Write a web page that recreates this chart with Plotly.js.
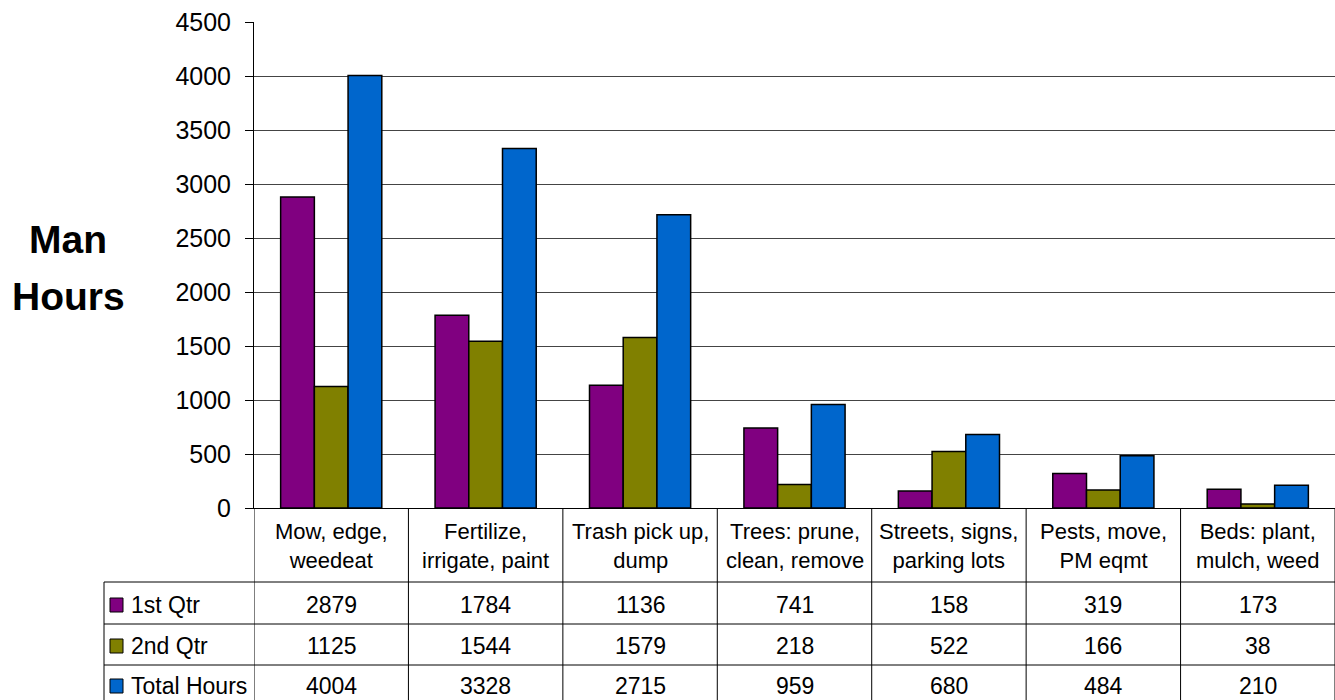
<!DOCTYPE html>
<html>
<head>
<meta charset="utf-8">
<script src="https://cdn.plot.ly/plotly-3.0.1.min.js"></script>
<style>html,body{margin:0;padding:0;background:#fff;}#chart{width:1335px;height:700px;}</style>
</head>
<body>
<div id="chart"></div>
<script>
const categories = ["Mow, edge,<br>weedeat", "Fertilize,<br>irrigate, paint", "Trash pick up,<br>dump", "Trees: prune,<br>clean, remove", "Streets, signs,<br>parking lots", "Pests, move,<br>PM eqmt", "Beds: plant,<br>mulch, weed"];
const seriesNames = ["1st Qtr", "2nd Qtr", "Total Hours"];
const q1 = [2879, 1784, 1136, 741, 158, 319, 173];
const q2 = [1125, 1544, 1579, 218, 522, 166, 38];
const total = [4004, 3328, 2715, 959, 680, 484, 210];
const yTicks = [0, 500, 1000, 1500, 2000, 2500, 3000, 3500, 4000, 4500];
const titleLines = ["Man", "Hours"];
const colors = ["#800080", "#808000", "#0066CC"];

const W = 1335, H = 700;
const mL = 254, mR = 0, mT = 22, mB = 192;
const plotW = W - mL - mR, plotH = H - mT - mB;
const py = px => (H - mB - px) / plotH;   // pixel y -> paper y
const pxX = px => (px - mL) / plotW;     // pixel x -> paper x

const FONT = "Liberation Sans, Arial, sans-serif";
const idx = categories.map((_, i) => i);
const allSeries = [q1, q2, total];

const traces = allSeries.map((vals, s) => ({
  type: "bar", x: idx, y: vals, name: seriesNames[s],
  marker: {color: colors[s], line: {color: "#000", width: 1.5}},
  hoverinfo: "none"
}));

// table geometry (pixels)
const headerBottom = 582, rowLines = [582, 624, 665], tableBottom = 700;
const rowCenters = [605, 646, 686];
const leftBorder = 104;

const shapes = [];
const annotations = [];
for (let i = 0; i <= categories.length; i++) {
  shapes.push({type: "line", xref: "x", yref: "paper", x0: i - 0.5, x1: i - 0.5,
    y0: 0, y1: py(tableBottom + 5), line: {color: "#000", width: 1}});
}
shapes.push({type: "line", xref: "paper", yref: "paper", x0: pxX(leftBorder), x1: pxX(leftBorder),
  y0: py(headerBottom), y1: py(tableBottom + 5), line: {color: "#000", width: 1}});
rowLines.forEach(r => shapes.push({type: "line", xref: "paper", yref: "paper",
  x0: pxX(leftBorder), x1: 1, y0: py(r), y1: py(r), line: {color: "#000", width: 1}}));

categories.forEach((c, i) => annotations.push({xref: "x", yref: "paper", x: i, y: py(546),
  text: c, showarrow: false, xanchor: "center", yanchor: "middle",
  font: {family: FONT, size: 22, color: "#000"}}));

allSeries.forEach((vals, s) => {
  const yc = py(rowCenters[s]);
  shapes.push({type: "rect", xref: "paper", yref: "paper",
    x0: pxX(110), x1: pxX(123), y0: py(rowCenters[s] + 7), y1: py(rowCenters[s] - 7),
    fillcolor: colors[s], line: {color: "#000", width: 1}});
  annotations.push({xref: "paper", yref: "paper", x: pxX(129), y: yc, text: seriesNames[s],
    showarrow: false, xanchor: "left", yanchor: "middle", font: {family: FONT, size: 23, color: "#000"}});
  vals.forEach((v, i) => annotations.push({xref: "x", yref: "paper", x: i, y: yc, text: String(v),
    showarrow: false, xanchor: "center", yanchor: "middle", font: {family: FONT, size: 23, color: "#000"}}));
});

// y-axis title, two lines
const titleCenters = [239, 297];
titleLines.forEach((t, k) => annotations.push({xref: "paper", yref: "paper", x: pxX(68), y: py(titleCenters[k]),
  text: "<b>" + t + "</b>", showarrow: false, xanchor: "center", yanchor: "middle",
  font: {family: FONT, size: 39, color: "#000"}}));

const layout = {
  width: W, height: H,
  margin: {l: mL, r: mR, t: mT, b: mB, pad: 0},
  paper_bgcolor: "#fff", plot_bgcolor: "#fff",
  showlegend: false,
  barmode: "group", bargap: 0.345, bargroupgap: 0,
  font: {family: FONT, color: "#000"},
  xaxis: {range: [-0.5, categories.length - 0.5], showticklabels: false, ticks: "",
    showgrid: false, zeroline: false, showline: true, linecolor: "#000", linewidth: 1, fixedrange: true},
  yaxis: {range: [0, 4500], tickvals: yTicks, ticktext: yTicks.map(String),
    ticks: "outside", ticklen: 8, tickcolor: "#000", tickwidth: 1, ticklabelstandoff: 9,
    tickfont: {family: FONT, size: 25, color: "#000"},
    showgrid: true, gridcolor: "#444", gridwidth: 1, zeroline: false,
    showline: true, linecolor: "#000", linewidth: 1, fixedrange: true},
  shapes: shapes, annotations: annotations
};

Plotly.newPlot("chart", traces, layout, {displayModeBar: false, staticPlot: true});
</script>
</body>
</html>
